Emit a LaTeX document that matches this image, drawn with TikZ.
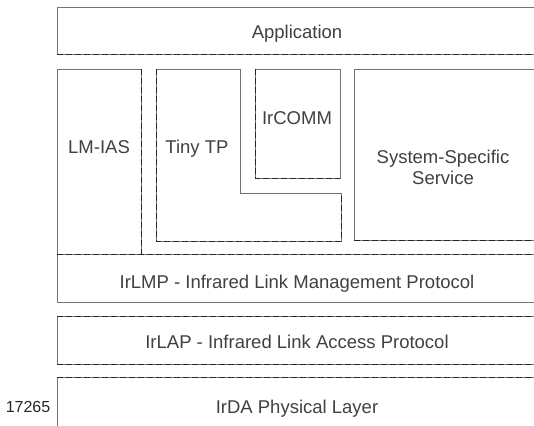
\documentclass[tikz,border=0pt]{standalone}
\usepackage{fontspec}
\setmainfont{Liberation Sans}
\tikzset{
  box/.style={draw=black!55, line width=0.6pt},
  seam/.style={draw=black!85, line width=0.9pt, dash pattern=on 6pt off 3pt},
  lbl/.style={font=\fontsize{18.5}{21}\selectfont, text=black!75, align=center, inner sep=0pt, anchor=base},
  tag/.style={font=\fontsize{16}{18}\selectfont, text=black!85, inner sep=0pt, anchor=base}
}
\begin{document}
\begin{tikzpicture}[x=1pt,y=-1pt]
	\useasboundingbox (0,0) rectangle (534,425);
	\clip (0,0) rectangle (534,425);
	% layer outlines
	\draw[box] (57,7) rectangle (540,54);
	\draw[box] (57,69) rectangle (141,254);
	\draw[box] (156,69) -- (240,69) -- (240,193) -- (341,193) -- (341,241) -- (156,241) -- cycle;
	\draw[box] (255,69) rectangle (340,178);
	\draw[box] (354,69) rectangle (540,240);
	\draw[box] (57,254) rectangle (540,302);
	\draw[box] (57,316) rectangle (540,364);
	\draw[box] (57,377) rectangle (540,440);
	% dashed seams
	\draw[seam] (57,54) -- (540,54);
	\draw[seam] (141,69) -- (141,254);
	\draw[seam] (156,69) -- (156,241) -- (341,241) -- (341,193);
	\draw[seam] (255,69) -- (255,178) -- (340,178);
	\draw[seam] (354,240) -- (540,240);
	\draw[seam] (57,254) -- (540,254);
	\draw[seam] (57,316) -- (540,316);
	\draw[seam] (57,364) -- (540,364);
	\draw[seam] (57,377) -- (540,377);
	% labels
	\node[lbl] (app) at (297,39) {Application};
	\node[lbl] (lmias) at (99,153) {LM-IAS};
	\node[lbl] (tinytp) at (197,153) {Tiny TP};
	\node[lbl] (ircomm) at (297,124) {IrCOMM};
	\node[lbl] (sss) at (443,163) {System-Specific};
	\node[lbl] (svc) at (443,184) {Service};
	\node[lbl] (irlmp) at (297,288) {IrLMP - Infrared Link Management Protocol};
	\node[lbl] (irlap) at (297,348) {IrLAP - Infrared Link Access Protocol};
	\node[lbl] (irda) at (297,413) {IrDA Physical Layer};
	\node[tag] (fig) at (28,412) {17265};
\end{tikzpicture}
\end{document}
